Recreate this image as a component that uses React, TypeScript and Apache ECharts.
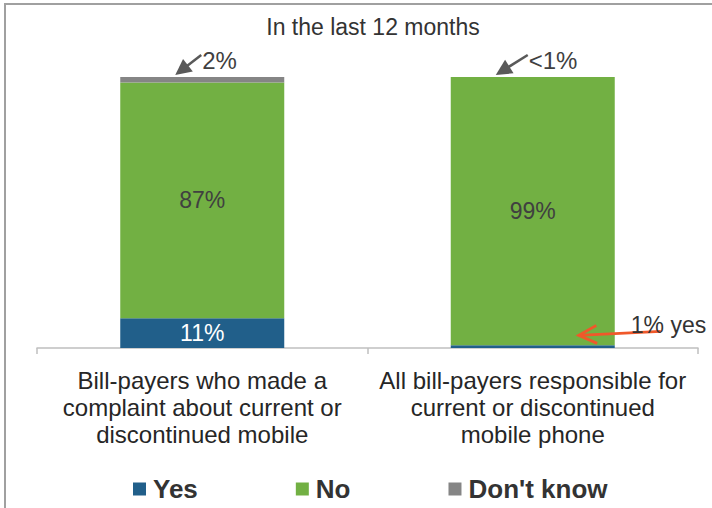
import React, { useEffect, useRef } from "react";
import * as echarts from "echarts";

const categories = [
  "Bill-payers who made a\ncomplaint about current or\ndiscontinued mobile",
  "All bill-payers responsible for\ncurrent or discontinued\nmobile phone",
];
const yesValues = [11, 1];
const noValues = [87, 99];
const dontKnowValues = [2, 0];
const topNotes = ["2%", "<1%"];
const yesNote = "1% yes";
const seriesNames = ["Yes", "No", "Don't know"];
const colors = ["#215f8a", "#72b043", "#858585"];
const FONT = "'Liberation Sans', Arial, sans-serif";

function arrow(sx: number, sy: number, tx: number, ty: number, color: string, filled: boolean, lw: number) {
  const dx = tx - sx;
  const dy = ty - sy;
  const len = Math.sqrt(dx * dx + dy * dy);
  const ux = dx / len;
  const uy = dy / len;
  const px = -uy;
  const py = ux;
  const L = filled ? 16 : 18;
  const W = filled ? 8 : 9;
  const bx = tx - ux * L;
  const by = ty - uy * L;
  const els: any[] = [];
  if (filled) {
    els.push({
      type: "line",
      z: 100,
      shape: { x1: sx, y1: sy, x2: bx + ux * 2, y2: by + uy * 2 },
      style: { stroke: color, lineWidth: lw },
    });
    els.push({
      type: "polygon",
      z: 100,
      shape: { points: [[tx, ty], [bx + px * W, by + py * W], [bx - px * W, by - py * W]] },
      style: { fill: color },
    });
  } else {
    els.push({
      type: "line",
      z: 100,
      shape: { x1: sx, y1: sy, x2: tx, y2: ty },
      style: { stroke: color, lineWidth: lw },
    });
    els.push({
      type: "polyline",
      z: 100,
      shape: { points: [[bx + px * W, by + py * W], [tx, ty], [bx - px * W, by - py * W]] },
      style: { stroke: color, lineWidth: lw, fill: "none" },
    });
  }
  return els;
}

export default function App() {
  const ref = useRef<HTMLDivElement>(null);
  useEffect(() => {
    if (!ref.current) return;
    const chart = echarts.init(ref.current, null, { renderer: "svg" });
    const labelFmt = (p: any) => (p.value >= 5 ? p.value + "%" : "");
    const option: any = {
      animation: false,
      backgroundColor: "#ffffff",
      title: {
        text: "In the last 12 months",
        left: 368,
        textAlign: "center",
        top: 10,
        textStyle: { fontFamily: FONT, fontSize: 23, fontWeight: "normal", color: "#333333" },
      },
      grid: { left: 37, right: 14, top: 77, bottom: 160 },
      legend: {
        data: seriesNames,
        left: 128,
        top: 471,
        icon: "rect",
        itemWidth: 13,
        itemHeight: 13,
        itemGap: 98,
        textStyle: { fontFamily: FONT, fontSize: 26, fontWeight: "bold", color: "#333333", padding: [0, 0, 0, 2] },
      },
      xAxis: {
        type: "category",
        data: categories,
        axisLine: { lineStyle: { color: "#bfbfbf", width: 1.5 } },
        axisTick: { show: true, length: 6, lineStyle: { color: "#bfbfbf", width: 1.5 } },
        axisLabel: {
          margin: 19,
          fontFamily: FONT,
          fontSize: 24,
          lineHeight: 27,
          color: "#262626",
          interval: 0,
        },
      },
      yAxis: { type: "value", min: 0, max: 100, show: false, splitLine: { show: false } },
      series: [
        {
          name: seriesNames[0],
          type: "bar",
          stack: "t",
          barWidth: 164,
          data: yesValues,
          itemStyle: { color: colors[0] },
          label: { show: true, position: "inside", formatter: labelFmt, color: "#ffffff", fontFamily: FONT, fontSize: 23 },
        },
        {
          name: seriesNames[1],
          type: "bar",
          stack: "t",
          barWidth: 164,
          data: noValues,
          itemStyle: { color: colors[1] },
          label: { show: true, position: "inside", formatter: labelFmt, color: "#404040", fontFamily: FONT, fontSize: 23 },
        },
        {
          name: seriesNames[2],
          type: "bar",
          stack: "t",
          barWidth: 164,
          data: dontKnowValues,
          itemStyle: { color: colors[2] },
          label: { show: false },
        },
      ],
    };
    chart.setOption(option);

    const graphics: any[] = [
      {
        type: "rect",
        z: 100,
        shape: { x: 5, y: 4, width: 900, height: 700 },
        style: { fill: "none", stroke: "#a0a0a0", lineWidth: 2 },
        silent: true,
      },
    ];
    for (let i = 0; i < categories.length; i++) {
      const total = yesValues[i] + noValues[i] + dontKnowValues[i];
      const p = chart.convertToPixel({ xAxisIndex: 0, yAxisIndex: 0 }, [i, total]) as number[];
      const tipX = i === 0 ? p[0] - 27 : p[0] - 37;
      const startX = i === 0 ? p[0] - 1 : p[0] - 5;
      graphics.push(...arrow(startX, p[1] - 22, tipX, p[1] - 2, "#595959", true, 2.5));
      graphics.push({
        type: "text",
        z: 100,
        x: startX + 1,
        y: p[1] - 17,
        style: {
          text: topNotes[i],
          fontFamily: FONT,
          fontSize: 24,
          fill: "#404040",
          verticalAlign: "middle",
        },
      });
    }
    const py = chart.convertToPixel({ xAxisIndex: 0, yAxisIndex: 0 }, [1, yesValues[1]]) as number[];
    graphics.push(...arrow(py[0] + 128, py[1] - 14, py[0] + 46, py[1] - 10, "#f0582a", false, 2.8));
    graphics.push({
      type: "text",
      z: 100,
      x: py[0] + 98,
      y: py[1] - 20,
      style: {
        text: yesNote,
        fontFamily: FONT,
        fontSize: 23,
        fill: "#333333",
        verticalAlign: "middle",
      },
    });
    chart.setOption({ graphic: graphics });

    return () => chart.dispose();
  }, []);
  return (
    <div
      ref={ref}
      style={{ position: "fixed", left: 0, top: 0, width: 712, height: 508 }}
    />
  );
}
